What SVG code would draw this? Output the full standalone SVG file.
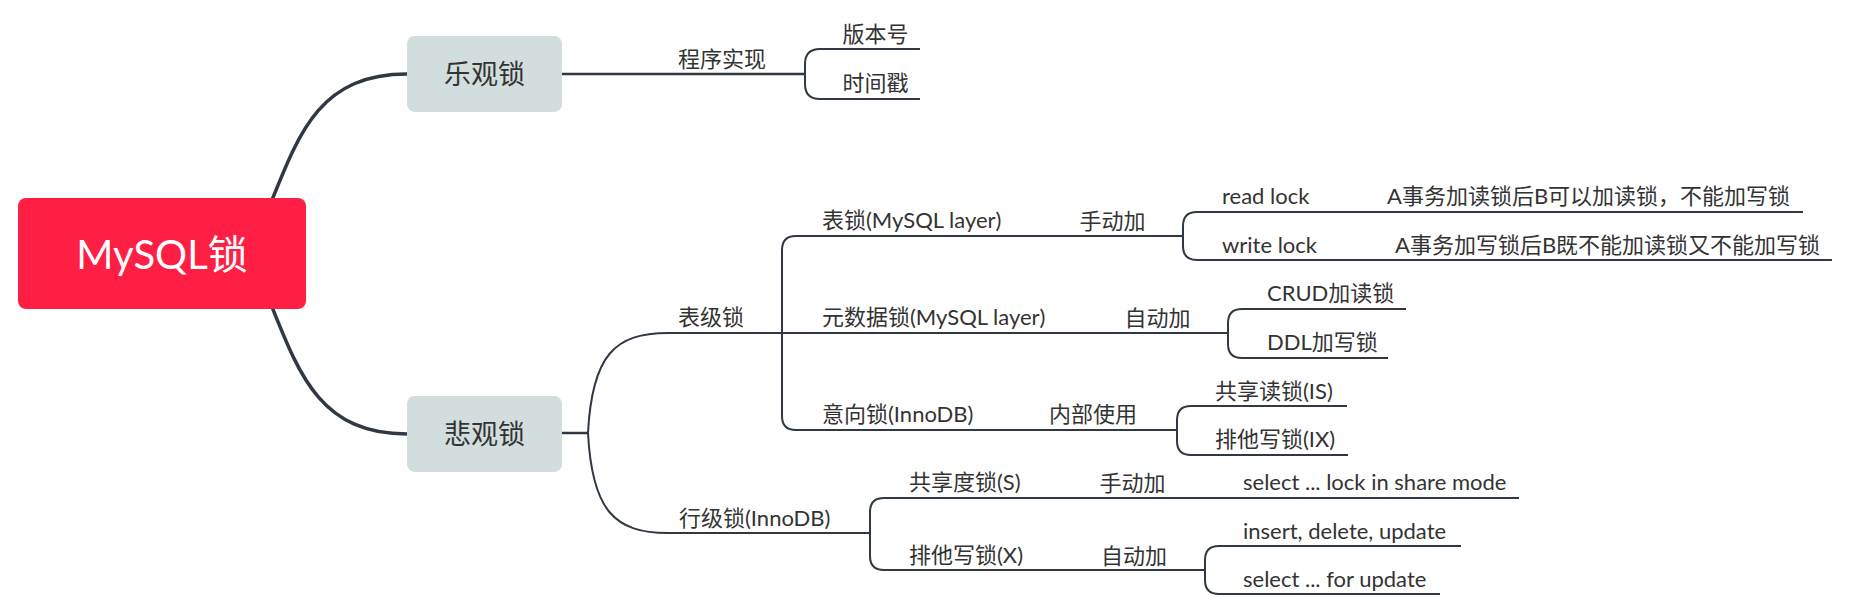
<svg xmlns="http://www.w3.org/2000/svg" width="1852" height="602" viewBox="0 0 1852 602">
<style>
.c{fill:none;stroke:#2f3843;stroke-width:2;}
.c1{fill:none;stroke:#2f3843;stroke-width:3.5;}
.c2{fill:none;stroke:#2f3843;stroke-width:2.5;}
.t{font-family:"Lato","Noto Sans CJK SC",sans-serif;font-size:22px;fill:#333333;}
.m{text-anchor:middle;}
.n{fill:#d2dedd;}
.nt{font-family:"Lato","Noto Sans CJK SC",sans-serif;font-size:27px;fill:#333333;text-anchor:middle;}
</style>
<rect width="1852" height="602" fill="#ffffff"/>
<g id="connectors">
<path class="c1" d="M272 200 C300 130,322 74,407 74"/>
<path class="c1" d="M272 307 C300 377,322 434,407 434"/>
<path class="c2" d="M562 74 H805"/>
<path class="c" d="M920 49 H820 Q805 49 805 64 V84 Q805 99 820 99 H920"/>
<path class="c2" d="M562 433 H588"/>
<path class="c" d="M588 433 C592 355,615 333,668 333 H782"/>
<path class="c" d="M588 433 C592 511,615 533,668 533 H870"/>
<path class="c" d="M1183 236 H796 Q782 236 782 250 V416 Q782 430 796 430 H1177"/>
<path class="c" d="M782 333 H1228"/>
<path class="c" d="M1803 212 H1197 Q1183 212 1183 226 V246 Q1183 260 1197 260 H1832"/>
<path class="c" d="M1406 309 H1242 Q1228 309 1228 323 V344 Q1228 358 1242 358 H1388"/>
<path class="c" d="M1347 406 H1191 Q1177 406 1177 420 V441 Q1177 455 1191 455 H1348"/>
<path class="c" d="M1519 498 H884 Q870 498 870 512 V556 Q870 570 884 570 H1205"/>
<path class="c" d="M1461 546 H1219 Q1205 546 1205 560 V580 Q1205 594 1219 594 H1440"/>
</g>
<g id="root">
<rect x="18" y="198" width="288" height="111" rx="8" fill="#ff1f45"/>
<text x="162" y="269" font-family="Lato,'Noto Sans CJK SC',sans-serif" font-size="40" fill="#ffffff" text-anchor="middle">MySQL锁</text>
</g>
<g id="optimistic">
<rect class="n" x="407" y="36" width="155" height="76" rx="8"/>
<text class="nt" x="484.5" y="84">乐观锁</text>
</g>
<g id="pessimistic">
<rect class="n" x="407" y="396" width="155" height="76" rx="8"/>
<text class="nt" x="484.5" y="444">悲观锁</text>
</g>
<g id="program"><text class="t m" x="722" y="67">程序实现</text></g>
<g id="version"><text class="t m" x="875.5" y="42">版本号</text></g>
<g id="timestamp"><text class="t m" x="875.5" y="91">时间戳</text></g>
<g id="tablelevel"><text class="t m" x="711" y="325">表级锁</text></g>
<g id="rowlevel"><text class="t" x="679" y="526">行级锁(InnoDB)</text></g>
<g id="tablelock"><text class="t" x="822" y="228">表锁(MySQL layer)</text></g>
<g id="mdl"><text class="t" x="822" y="325">元数据锁(MySQL layer)</text></g>
<g id="intention"><text class="t" x="822" y="422">意向锁(InnoDB)</text></g>
<g id="manual1"><text class="t m" x="1112.5" y="229">手动加</text></g>
<g id="auto1"><text class="t m" x="1157.5" y="326">自动加</text></g>
<g id="internal"><text class="t m" x="1093" y="422">内部使用</text></g>
<g id="readlock"><text class="t" x="1222" y="204">read lock</text></g>
<g id="writelock"><text class="t" x="1222" y="253">write lock</text></g>
<g id="readdesc"><text class="t" x="1387" y="204">A事务加读锁后B可以加读锁，不能加写锁</text></g>
<g id="writedesc"><text class="t" x="1395" y="253">A事务加写锁后B既不能加读锁又不能加写锁</text></g>
<g id="crud"><text class="t" x="1267" y="301">CRUD加读锁</text></g>
<g id="ddl"><text class="t" x="1267" y="350">DDL加写锁</text></g>
<g id="is"><text class="t" x="1215" y="399">共享读锁(IS)</text></g>
<g id="ix"><text class="t" x="1215" y="447">排他写锁(IX)</text></g>
<g id="s"><text class="t" x="909" y="490">共享度锁(S)</text></g>
<g id="x"><text class="t" x="909" y="563">排他写锁(X)</text></g>
<g id="manual2"><text class="t m" x="1132.5" y="491">手动加</text></g>
<g id="auto2"><text class="t m" x="1134" y="564">自动加</text></g>
<g id="share"><text class="t" x="1243" y="490">select ... lock in share mode</text></g>
<g id="ins"><text class="t" x="1243" y="539">insert, delete, update</text></g>
<g id="forupd"><text class="t" x="1243" y="587">select ... for update</text></g>
</svg>
